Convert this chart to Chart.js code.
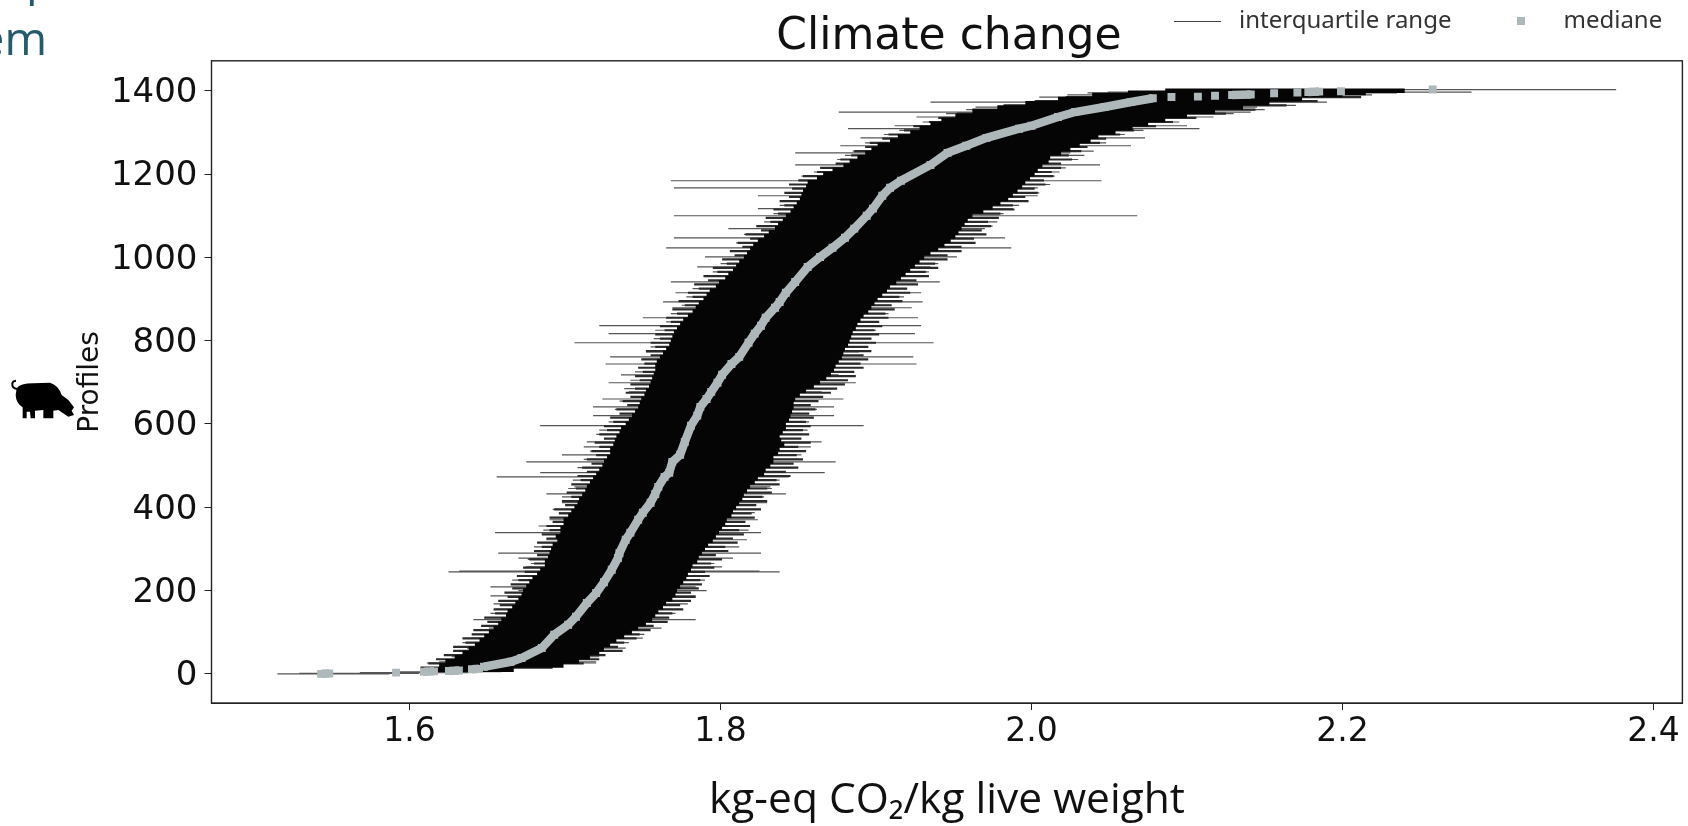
<!DOCTYPE html>
<html>
<head>
<meta charset="utf-8">
<script src="https://cdn.jsdelivr.net/npm/chart.js@4/dist/chart.umd.min.js"></script>
<style>
  html, body { margin: 0; padding: 0; background: #fff; overflow: hidden; }
  #wrap { position: relative; width: 1688px; height: 826px; overflow: hidden; }
  #climateChart { position: absolute; left: 0; top: 0; }
  .slideText { position: absolute; font-family: "Open Sans", sans-serif; font-size: 46px; line-height: 46px; color: #245a6b; white-space: nowrap; }
  #pig { position: absolute; left: 0; top: 320px; width: 130px; height: 130px; }
</style>
</head>
<body>
<div id="wrap">
  <canvas id="climateChart" width="1688" height="826"></canvas>
  <div class="slideText" style="left:26px;top:-46px">p</div>
  <div class="slideText" style="right:1641px;top:14px">em</div>
  <svg id="pig" viewBox="0 0 390 390">
    <path fill="#000" d="M50 205 Q60 190 100 190 L150 188 Q175 195 185 225 L205 240 L222 262 L215 272 L222 285 L205 290 L175 270 L160 272 L160 295 L130 295 L130 270 L105 272 L105 295 L92 295 L90 275 L80 275 L80 295 L68 295 L68 262 Q48 250 47 225 Z"/>
    <path fill="none" stroke="#000" stroke-width="6" d="M52 207 Q35 205 37 190 Q38 183 48 182"/>
  </svg>
</div>
<script>
const xTicks = [1.6, 1.8, 2.0, 2.2, 2.4]
const yTicks = [0, 200, 400, 600, 800, 1000, 1200, 1400]

// solid part of the interquartile band, one row per 10 profiles (then 1395, 1400)
const bandProfiles = [
  10,20,30,40,50,60,70,80,90,100,
  110,120,130,140,150,160,170,180,190,200,
  210,220,230,240,250,260,270,280,290,300,
  310,320,330,340,350,360,370,380,390,400,
  410,420,430,440,450,460,470,480,490,500,
  510,520,530,540,550,560,570,580,590,600,
  610,620,630,640,650,660,670,680,690,700,
  710,720,730,740,750,760,770,780,790,800,
  810,820,830,840,850,860,870,880,890,900,
  910,920,930,940,950,960,970,980,990,1000,
  1010,1020,1030,1040,1050,1060,1070,1080,1090,1100,
  1110,1120,1130,1140,1150,1160,1170,1180,1190,1200,
  1210,1220,1230,1240,1250,1260,1270,1280,1290,1300,
  1310,1320,1330,1340,1350,1360,1370,1380,1390,1395,1400
]
const bandLow = [
  1.614,1.619,1.623,1.629,1.634,1.638,1.642,1.645,1.648,1.651,
  1.654,1.657,1.659,1.662,1.663,1.666,1.668,1.670,1.672,1.673,
  1.675,1.677,1.679,1.682,1.684,1.687,1.687,1.689,1.690,1.691,
  1.692,1.695,1.694,1.697,1.697,1.699,1.699,1.702,1.704,1.706,
  1.708,1.709,1.711,1.713,1.714,1.716,1.718,1.720,1.722,1.724,
  1.725,1.727,1.729,1.729,1.731,1.732,1.733,1.735,1.736,1.739,
  1.741,1.743,1.745,1.747,1.748,1.749,1.751,1.752,1.754,1.755,
  1.756,1.757,1.758,1.758,1.759,1.761,1.763,1.765,1.767,1.768,
  1.769,1.770,1.772,1.774,1.776,1.779,1.782,1.784,1.786,1.789,
  1.791,1.793,1.797,1.799,1.803,1.805,1.808,1.810,1.812,1.815,
  1.817,1.819,1.821,1.824,1.828,1.831,1.835,1.837,1.840,1.842,
  1.845,1.847,1.849,1.851,1.852,1.853,1.855,1.856,1.862,1.866,
  1.872,1.879,1.883,1.888,1.893,1.897,1.901,1.909,1.914,1.922,
  1.928,1.935,1.942,1.951,1.962,1.978,1.996,2.017,2.039,2.062,2.086
]
const bandHigh = [
  1.667,1.699,1.709,1.716,1.722,1.725,1.729,1.733,1.738,1.743,
  1.747,1.752,1.756,1.758,1.760,1.763,1.765,1.769,1.771,1.772,
  1.774,1.776,1.778,1.779,1.781,1.782,1.785,1.786,1.788,1.790,
  1.792,1.795,1.797,1.799,1.801,1.803,1.804,1.807,1.808,1.810,
  1.812,1.814,1.815,1.817,1.819,1.822,1.824,1.828,1.829,1.832,
  1.834,1.834,1.837,1.838,1.841,1.839,1.838,1.840,1.842,1.842,
  1.844,1.845,1.846,1.847,1.847,1.848,1.851,1.855,1.860,1.864,
  1.868,1.871,1.873,1.874,1.876,1.878,1.879,1.880,1.882,1.883,
  1.884,1.885,1.887,1.888,1.890,1.892,1.895,1.897,1.899,1.901,
  1.904,1.907,1.909,1.913,1.916,1.919,1.922,1.925,1.928,1.931,
  1.935,1.940,1.944,1.948,1.951,1.953,1.955,1.957,1.959,1.962,
  1.969,1.975,1.980,1.985,1.988,1.991,1.994,1.996,1.999,2.002,
  2.004,2.007,2.011,2.012,2.019,2.025,2.031,2.038,2.043,2.054,
  2.065,2.075,2.086,2.100,2.118,2.136,2.153,2.174,2.200,2.215,2.240
]

// jagged rim of the band, between the solid rows
const rimProfiles = [
  15,25,35,45,55,65,75,85,95,105,
  115,125,135,145,155,165,175,185,195,205,
  215,225,235,245,255,265,275,285,295,305,
  315,325,335,345,355,365,375,385,395,405,
  415,425,435,445,455,465,475,485,495,505,
  515,525,535,545,555,565,575,585,595,605,
  615,625,635,645,655,665,675,685,695,705,
  715,725,735,745,755,765,775,785,795,805,
  815,825,835,845,855,865,875,885,895,905,
  915,925,935,945,955,965,975,985,995,1005,
  1015,1025,1035,1045,1055,1065,1075,1085,1095,1105,
  1115,1125,1135,1145,1155,1165,1175,1185,1195,1205,
  1215,1225,1235,1245,1255,1265,1275,1285,1295,1305,
  1315,1325,1335,1345,1355,1365,1375,1385
]
const rimLow = [
  1.607,1.612,1.617,1.622,1.628,1.628,1.636,1.634,1.640,1.641,
  1.646,1.650,1.648,1.655,1.654,1.658,1.657,1.663,1.661,1.666,
  1.665,1.670,1.669,1.674,1.673,1.680,1.677,1.682,1.680,1.685,
  1.682,1.688,1.685,1.690,1.688,1.692,1.690,1.696,1.693,1.700,
  1.698,1.704,1.701,1.707,1.704,1.710,1.708,1.714,1.711,1.717,
  1.714,1.720,1.717,1.722,1.719,1.725,1.722,1.727,1.725,1.731,
  1.729,1.735,1.733,1.740,1.737,1.742,1.739,1.745,1.742,1.748,
  1.745,1.750,1.747,1.751,1.749,1.755,1.752,1.758,1.755,1.761,
  1.758,1.764,1.761,1.768,1.765,1.772,1.769,1.777,1.773,1.782,
  1.779,1.786,1.783,1.792,1.789,1.798,1.795,1.804,1.801,1.809,
  1.806,1.814,1.811,1.819,1.816,1.826,1.823,1.832,1.829,1.837,
  1.834,1.841,1.838,1.844,1.841,1.846,1.844,1.850,1.853,1.862,
  1.864,1.874,1.877,1.884,1.886,1.893,1.896,1.904,1.908,1.918,
  1.924,1.934,1.940,1.952,1.962,1.982,2.002,2.022
]
const rimHigh = [
  1.692,1.712,1.722,1.726,1.737,1.734,1.738,1.746,1.748,1.755,
  1.757,1.766,1.767,1.769,1.776,1.774,1.781,1.784,1.781,1.786,
  1.788,1.787,1.793,1.790,1.796,1.794,1.801,1.797,1.805,1.803,
  1.811,1.808,1.815,1.812,1.819,1.816,1.822,1.820,1.826,1.823,
  1.830,1.827,1.833,1.830,1.838,1.836,1.845,1.842,1.850,1.847,
  1.853,1.849,1.855,1.850,1.858,1.852,1.857,1.853,1.858,1.855,
  1.860,1.857,1.861,1.858,1.863,1.866,1.871,1.875,1.880,1.882,
  1.887,1.886,1.892,1.890,1.895,1.892,1.897,1.895,1.900,1.897,
  1.902,1.899,1.904,1.902,1.908,1.906,1.912,1.910,1.917,1.915,
  1.922,1.920,1.927,1.926,1.934,1.932,1.940,1.938,1.946,1.946,
  1.955,1.955,1.964,1.963,1.971,1.968,1.974,1.972,1.979,1.980,
  1.989,1.988,1.998,1.996,2.004,2.002,2.009,2.008,2.014,2.013,
  2.019,2.019,2.026,2.024,2.032,2.036,2.044,2.048,2.057,2.066,
  2.080,2.091,2.106,2.125,2.144,2.164,2.184,2.212
]

// single profiles that stick out of the band
const tipProfiles = [
  0,1,3,5,26,29,41,62,86,110,130,168,187,200,209,245,247,257,278,290,
  322,339,370,387,411,432,449,473,483,509,526,557,596,620,641,660,677,699,718,744,
  761,773,795,817,836,855,879,893,915,941,977,1001,1023,1047,1069,1100,1117,1148,1167,1184,
  1222,1251,1268,1287,1309,1316,1337,1349,1361,1373,1390,1395,1397,1403,
  75,95,145,155,175,225,235,265,275,305,315,345,355,395,425,445,465,495,515,535,
  545,575,585,605,635,655,685,705,725,755,785,805,825,845,865,885,905,925,955,965,
  985,1015,1035,1055,1075,1085,1105,1125,1135,1155,1175,1195,1205,1215,1235,1245,1255,1275,1295,1305,
  1325,1345,1355,1365,1385
]
const tipLow = [
  1.515,1.529,1.568,1.590,1.611,1.619,1.627,1.637,1.640,1.651,1.641,1.654,1.652,1.670,1.652,1.625,1.632,1.675,1.670,1.657,
  1.688,1.655,1.690,1.696,1.698,1.688,1.706,1.656,1.684,1.675,1.698,1.714,1.684,1.718,1.718,1.724,1.741,1.728,1.736,1.726,
  1.729,1.752,1.706,1.728,1.722,1.750,1.769,1.763,1.771,1.768,1.785,1.790,1.765,1.770,1.805,1.770,1.824,1.824,1.770,1.768,
  1.848,1.848,1.877,1.890,1.882,1.912,1.926,1.876,1.964,1.935,2.023,2.036,2.049,2.171,
  1.634,1.640,1.652,1.656,1.660,1.666,1.672,1.678,1.676,1.680,1.684,1.686,1.683,1.692,1.698,1.702,1.705,1.708,1.712,1.716,
  1.712,1.720,1.722,1.728,1.732,1.735,1.738,1.742,1.745,1.750,1.755,1.757,1.758,1.765,1.768,1.775,1.778,1.782,1.790,1.795,
  1.800,1.806,1.810,1.815,1.824,1.828,1.834,1.838,1.840,1.843,1.846,1.852,1.860,1.866,1.875,1.880,1.885,1.893,1.905,1.915,
  1.930,1.945,1.958,1.985,2.005
]
const tipHigh = [
  1.587,1.606,1.638,1.659,1.720,1.720,1.722,1.739,1.750,1.762,1.784,1.779,1.784,1.791,1.784,1.838,1.825,1.801,1.808,1.826,
  1.817,1.826,1.824,1.822,1.830,1.842,1.832,1.844,1.867,1.874,1.852,1.865,1.892,1.873,1.873,1.879,1.865,1.887,1.876,1.926,
  1.924,1.889,1.937,1.925,1.929,1.927,1.923,1.930,1.929,1.941,1.935,1.952,1.987,1.983,1.970,2.068,1.988,2.004,2.004,2.045,
  2.044,2.025,2.064,2.073,2.108,2.100,2.117,2.141,2.145,2.190,2.219,2.235,2.283,2.376,
  1.741,1.751,1.771,1.774,1.778,1.790,1.787,1.796,1.800,1.812,1.806,1.818,1.815,1.825,1.828,1.833,1.838,1.847,1.850,1.846,
  1.858,1.852,1.856,1.857,1.862,1.860,1.872,1.880,1.883,1.890,1.895,1.897,1.900,1.902,1.908,1.910,1.918,1.920,1.928,1.934,
  1.940,1.950,1.960,1.968,1.975,1.978,1.982,1.992,1.998,2.005,2.012,2.015,2.018,2.022,2.030,2.034,2.040,2.048,2.060,2.072,
  2.095,2.130,2.150,2.170,2.200
]

// medians, null marks a visible break between the squares
const medianProfiles = [
  0,1,2,3,4,5,6,6,7,8,9,11,12,13,17,29,38,62,94,118,137,170,194,220,250,278,290,322,339,370,387,411,432,449,473,483,509,526,557,596,
  620,641,660,677,699,718,744,761,795,817,836,855,879,893,915,941,977,1001,1023,1047,1069,1100,1117,1148,1167,1184,1222,1251,1268,1287,
  1309,1316,1337,1349,1361,1373,1382,1383,1385,1385,1386,1386,1388,1388,1390,1391,1391,1394,1394,1396,1396,1397,1398,1398,1399,1399,1403
]
const medianValues = [
  1.5431,1.5483,null,1.5913,null,1.6093,1.6157,null,1.6253,1.6317,null,1.6401,1.6446,null,1.6478,1.665,1.672,1.685,1.693,1.702,1.707,1.714,1.720,1.725,1.730,1.734,1.735,1.739,1.742,1.747,1.750,1.755,1.758,1.760,1.764,1.767,1.769,1.774,1.777,1.781,
  1.785,1.787,1.791,1.794,1.798,1.801,1.807,1.812,1.818,1.822,1.826,1.829,1.835,1.838,1.842,1.848,1.856,1.864,1.872,1.880,1.886,1.894,1.898,1.904,1.909,1.916,1.935,1.946,1.958,1.971,
  1.992,2.000,2.017,2.028,2.047,2.064,2.078,null,2.090,null,2.107,null,2.118,null,2.129,2.141,null,2.156,null,2.171,null,2.178,2.185,null,2.199,null,2.258
]

// x / y pairs for one dataset, each profile a separate horizontal stroke
function rows(profiles, low, high) {
  const pts = []
  profiles.forEach((p, i) => {
    pts.push({x: low[i], y: p}, {x: high[i], y: p}, {x: null, y: null})
  })
  return pts
}

function swatch(w, h, color) {
  const c = document.createElement('canvas')
  c.width = w
  c.height = h
  const g = c.getContext('2d')
  g.fillStyle = color
  g.fillRect(0, 0, w, h)
  return c
}

const frame = {
  id: 'frame',
  beforeLayout(chart) {
    // the legend shares the title's strip, it must not push the plot down
    const legend = chart.legend
    if (!legend._flat) {
      const fit = legend.fit
      legend.fit = function () { fit.call(this); this.height = 0 }
      legend._flat = true
    }
  },
  afterLayout(chart) {
    const legend = chart.legend
    legend.left = 1127
    legend.right = 1800
    legend.top = -31
    legend.bottom = 58
    // title is centred over the plot, not the canvas
    chart.titleBlock.left = chart.chartArea.left + 2
    chart.titleBlock.right = chart.chartArea.right + 2
  },
  afterDraw(chart) {
    const {ctx, chartArea: a} = chart
    ctx.save()
    ctx.strokeStyle = '#222'
    ctx.lineWidth = 1.4
    ctx.strokeRect(a.left, a.top, a.right - a.left, a.bottom - a.top)
    ctx.restore()
  }
}

const ctx = document.getElementById('climateChart').getContext('2d')
new Chart(ctx, {
  type: 'scatter',
  plugins: [frame],
  data: {
    datasets: [
      {
        label: 'interquartile range',
        data: rows(bandProfiles, bandLow, bandHigh),
        showLine: true, borderColor: '#050505', borderWidth: 4.6, pointRadius: 0, spanGaps: false, order: 1
      },
      {
        label: 'mediane',
        data: medianProfiles.map((p, i) => ({x: medianValues[i], y: medianValues[i] === null ? null : p})),
        showLine: true, borderColor: '#aeb8bb', borderWidth: 8.5, spanGaps: false, order: 0,
        pointStyle: 'rect', pointRadius: 5.6, pointBackgroundColor: '#aeb8bb', pointBorderWidth: 0
      },
      {
        label: 'rim',
        data: rows(rimProfiles, rimLow, rimHigh),
        showLine: true, borderColor: '#2a2a2a', borderWidth: 2.2, pointRadius: 0, spanGaps: false, order: 2
      },
      {
        label: 'tips',
        data: rows(tipProfiles, tipLow, tipHigh),
        showLine: true, borderColor: '#555', borderWidth: 1.2, pointRadius: 0, spanGaps: false, order: 3
      }
    ]
  },
  options: {
    responsive: false,
    animation: false,
    layout: {padding: {left: 74, right: 2, top: 0, bottom: 0}},
    plugins: {
      title: {
        display: true,
        text: 'Climate change',
        color: '#111',
        font: {family: 'DejaVu Sans', size: 44, weight: 'normal'},
        padding: {top: 11, bottom: -3}
      },
      legend: {
        position: 'top',
        align: 'start',
        labels: {
          color: '#333',
          font: {family: 'Noto Sans', size: 24},
          usePointStyle: true,
          pointStyleWidth: 60,
          padding: 40,
          generateLabels: () => [
            {text: 'interquartile range', pointStyle: swatch(47, 1, '#444'), fontColor: '#333', lineWidth: 0},
            {text: 'mediane', pointStyle: swatch(8, 8, '#aeb8bb'), fontColor: '#333', lineWidth: 0}
          ]
        }
      },
      tooltip: {enabled: false}
    },
    scales: {
      x: {
        type: 'linear',
        min: 1.4726,
        max: 2.4186,
        afterBuildTicks: s => { s.ticks = xTicks.map(v => ({value: v})) },
        afterFit: s => { s.height = 123 },
        ticks: {
          color: '#111',
          font: {family: 'DejaVu Sans', size: 33},
          padding: 3,
          maxRotation: 0,
          callback: v => v.toFixed(1)
        },
        grid: {drawOnChartArea: false, drawTicks: true, tickLength: 7, color: '#222'},
        border: {display: true, color: '#222'},
        title: {
          display: true,
          text: 'kg-eq CO₂/kg live weight',
          color: '#111',
          font: {family: 'Open Sans', size: 42.5},
          padding: 0
        }
      },
      y: {
        type: 'linear',
        min: -70,
        max: 1472,
        afterBuildTicks: s => { s.ticks = yTicks.map(v => ({value: v})) },
        afterFit: s => { s.width = 137.5 },
        ticks: {
          color: '#111',
          font: {family: 'DejaVu Sans', size: 34},
          padding: 7,
          labelOffset: 2.5,
          callback: v => String(v)
        },
        grid: {drawOnChartArea: false, drawTicks: true, tickLength: 7, color: '#222'},
        border: {display: true, color: '#222'},
        title: {
          display: true,
          text: 'Profiles',
          color: '#111',
          font: {family: 'DejaVu Sans', size: 28},
          padding: 0
        }
      }
    }
  }
})
</script>
</body>
</html>
